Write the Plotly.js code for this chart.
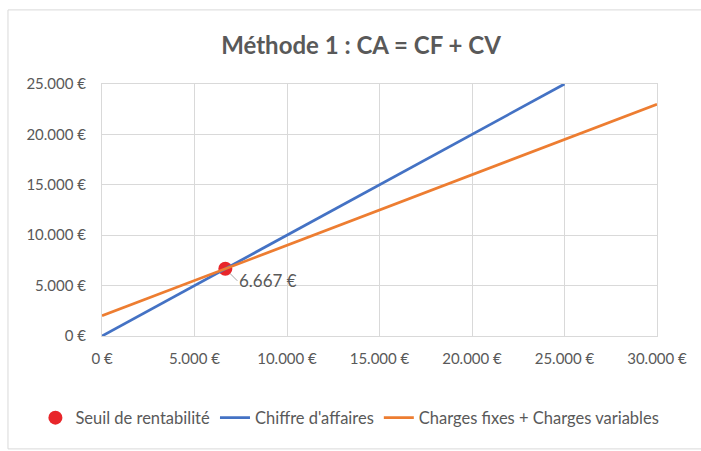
<!DOCTYPE html>
<html>
<head>
<meta charset="utf-8">
<script src="https://cdn.plot.ly/plotly-3.0.1.min.js"></script>
<style>html,body{margin:0;padding:0;background:#fff;}#chart{width:701px;height:451px;}</style>
</head>
<body>
<div id="chart"></div>
<script>
// Data
const caX = [0, 5000, 10000, 15000, 20000, 25000];
const caY = [0, 5000, 10000, 15000, 20000, 25000];
const chargesX = [0, 5000, 10000, 15000, 20000, 25000, 30000];
const chargesY = [2000, 5500, 9000, 12500, 16000, 19500, 23000];
const seuilX = [6667];
const seuilY = [6667];
const seuilLabel = "6.667 €";
const xTicks = [0, 5000, 10000, 15000, 20000, 25000, 30000];
const yTicks = [0, 5000, 10000, 15000, 20000, 25000];
const xTickText = ["0 €", "5.000 €", "10.000 €", "15.000 €", "20.000 €", "25.000 €", "30.000 €"];
const yTickText = ["0 €", "5.000 €", "10.000 €", "15.000 €", "20.000 €", "25.000 €"];

const font = "Lato, 'Open Sans', sans-serif";
const grid = "#D9D9D9";
const txt = "#595959";

const traces = [
  {x: seuilX, y: seuilY, type: "scatter", mode: "markers", name: "Seuil de rentabilité",
   marker: {color: "#E8262A", size: 14}},
  {x: caX, y: caY, type: "scatter", mode: "lines", name: "Chiffre d'affaires",
   line: {color: "#4472C4", width: 2.75}},
  {x: chargesX, y: chargesY, type: "scatter", mode: "lines", name: "Charges fixes + Charges variables",
   line: {color: "#ED7D31", width: 2.75}}
];

const layout = {
  width: 701, height: 451,
  margin: {l: 102, r: 44, t: 84, b: 115, autoexpand: false},
  paper_bgcolor: "#fff", plot_bgcolor: "#fff",
  font: {family: font, color: txt, size: 15},
  title: {text: "Méthode 1 : CA = CF + CV", x: 0.515, xanchor: "center", y: 0.9, yanchor: "middle",
          font: {family: font, size: 24, color: txt, weight: 700}},
  xaxis: {range: [0, 30000], tickvals: xTicks, ticktext: xTickText, showgrid: true, gridcolor: grid,
          zeroline: false, showline: true, linecolor: grid, mirror: true, ticks: "", ticklabelstandoff: 9,
          tickfont: {size: 15, color: txt}},
  yaxis: {range: [0, 25000], tickvals: yTicks, ticktext: yTickText, showgrid: true, gridcolor: grid,
          zeroline: false, showline: true, linecolor: grid, mirror: true, ticks: "", ticklabelstandoff: 12,
          tickfont: {size: 15, color: txt}},
  showlegend: true,
  legend: {orientation: "h", x: -0.12, xanchor: "left", y: -0.325, yanchor: "middle",
           traceorder: "normal", font: {size: 16.5, color: txt}},
  annotations: [{x: seuilX[0], y: seuilY[0], text: seuilLabel, showarrow: true, arrowhead: 0,
                 arrowcolor: "#A6A6A6", arrowwidth: 1, ax: 12, ay: 12, standoff: 7, xanchor: "left",
                 font: {size: 17, color: txt}}],
  shapes: [{type: "rect", xref: "paper", yref: "paper", x0: -0.1694, x1: 1.09, y0: -0.448, y1: 1.294,
            line: {color: "#D9D9D9", width: 1}}]
};
Plotly.newPlot("chart", traces, layout, {displayModeBar: false, staticPlot: true});
</script>
</body>
</html>
